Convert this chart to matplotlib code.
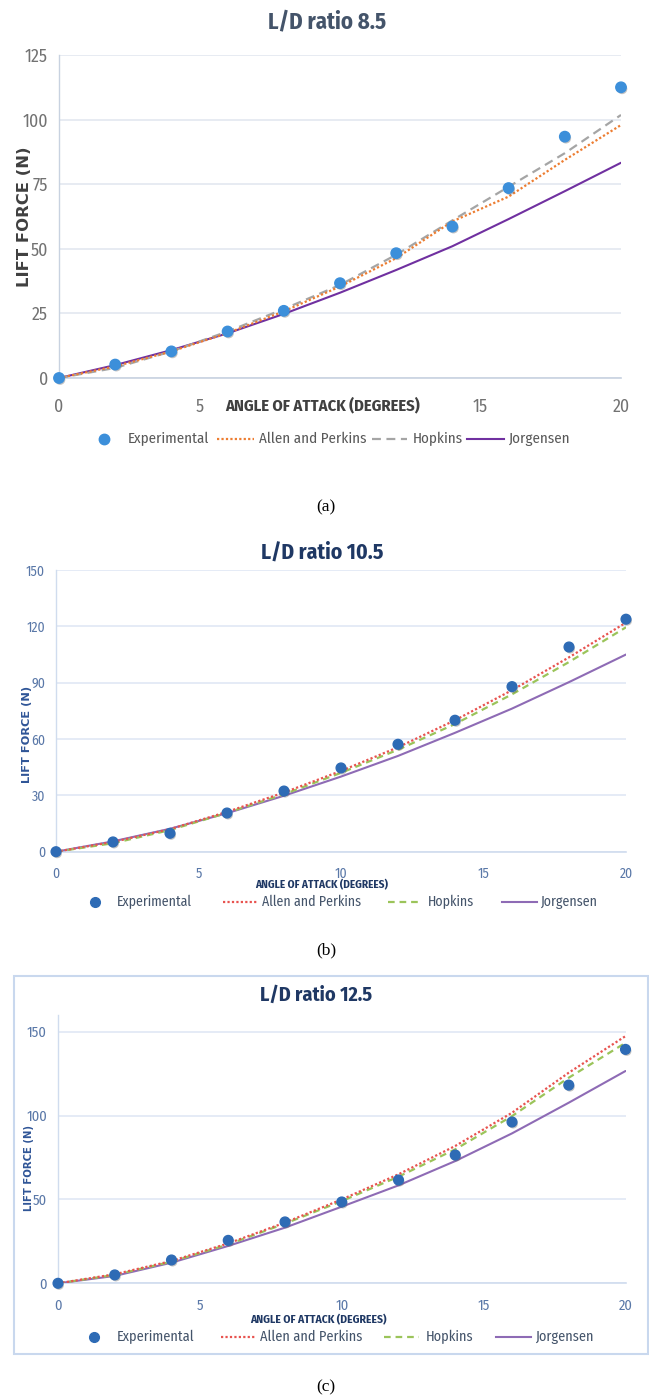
import matplotlib
matplotlib.use("Agg")
import matplotlib.pyplot as plt
import matplotlib.patheffects as pe
from matplotlib import font_manager as fm
from matplotlib.patches import Rectangle
from matplotlib.lines import Line2D

# ---------------- data ----------------
angle = [0, 2, 4, 6, 8, 10, 12, 14, 16, 18, 20]
x_ticks = [0, 5, 10, 15, 20]
series_names = ["Experimental", "Allen and Perkins", "Hopkins", "Jorgensen"]

# L/D ratio 8.5
exp_85 = [0, 5.2, 10.3, 18.0, 26.0, 36.7, 48.3, 58.6, 73.5, 93.4, 112.5]
allen_85 = [0, 4.5, 10.3, 17.4, 25.8, 35.4, 46.4, 60.6, 70.2, 84.4, 97.9]
hopkins_85 = [0, 3.9, 10.3, 18.0, 26.7, 36.0, 47.7, 61.0, 74.0, 87.0, 101.8]
jorg_85 = [0, 5.0, 10.8, 17.3, 24.8, 33.0, 41.8, 51.0, 61.5, 72.3, 83.3]
yticks_85 = [0, 25, 50, 75, 100, 125]

# L/D ratio 10.5
exp_105 = [0, 5.2, 9.8, 20.6, 32.3, 44.6, 57.2, 70.0, 87.9, 109.0, 123.8]
allen_105 = [0, 5.2, 12.0, 21.2, 31.5, 43.0, 55.6, 70.0, 86.0, 103.5, 122.0]
hopkins_105 = [0, 4.5, 11.5, 20.7, 30.6, 42.0, 54.3, 68.0, 83.8, 101.0, 119.5]
jorg_105 = [0, 5.5, 12.2, 20.5, 29.8, 40.0, 51.0, 63.3, 76.2, 90.3, 105.0]
yticks_105 = [0, 30, 60, 90, 120, 150]

# L/D ratio 12.5
exp_125 = [0, 5.0, 13.9, 25.6, 36.6, 48.5, 61.6, 76.5, 96.2, 118.2, 139.5]
allen_125 = [0, 5.4, 13.3, 23.8, 36.2, 50.0, 65.0, 81.9, 101.7, 125.6, 147.4]
hopkins_125 = [0, 5.0, 12.9, 23.2, 35.6, 49.0, 63.6, 79.9, 99.7, 122.6, 143.4]
jorg_125 = [0, 4.4, 12.3, 22.3, 33.2, 45.7, 58.4, 72.9, 89.4, 107.7, 126.6]
yticks_125 = [0, 50, 100, 150]

# ---------------- fonts ----------------
_installed = {f.name for f in fm.fontManager.ttflist}


def family_list(candidates, fallback="DejaVu Sans"):
    found = [c for c in candidates if c in _installed][:1]
    return found + [fallback]


NARROW = family_list(["Fira Sans Condensed", "Asap Condensed", "PT Sans Narrow",
                      "Archivo Narrow", "Liberation Sans Narrow", "Carlito", "Lato"])
SERIF = family_list(["Liberation Serif", "Tinos", "DejaVu Serif"], "DejaVu Serif")
WIDE = ["DejaVu Sans"]

# ---------------- figure ----------------
W, H = 649, 1396
DPI = 100
fig = plt.figure(figsize=(W / DPI, H / DPI), dpi=DPI)
fig.patch.set_facecolor("white")
renderer = fig.canvas.get_renderer()

# soft drop shadow under the experimental markers
MARKER_SHADOW = [pe.SimplePatchShadow(offset=(0.8, -1.2), shadow_rgbFace="#555555",
                                      alpha=0.35),
                 pe.Normal()]


def fx(px):
    return px / W


def fy(py):
    return 1 - py / H


def fit_size(text, family, weight, target_px, rotation=0):
    """Font size (pt) that makes `text` span `target_px` pixels."""
    t = fig.text(0, 0, text, family=family, weight=weight, size=10, rotation=rotation)
    bb = t.get_window_extent(renderer)
    t.remove()
    span = bb.height if rotation else bb.width
    return 10 * target_px / span


def add_axes_px(left, right, top, bottom):
    return fig.add_axes([fx(left), fy(bottom), (right - left) / W, (bottom - top) / H])


def style_axes(ax, ylim, yticks, tick_color, tick_size, xpad, grid_color, spine_color,
               hide_ten=False):
    ax.set_xlim(0, 20)
    ax.set_ylim(*ylim)
    ax.set_xticks(x_ticks)
    ax.set_xticklabels(["" if (hide_ten and v == 10) else str(v) for v in x_ticks])
    ax.set_yticks(yticks)
    ax.tick_params(length=0, colors=tick_color, labelsize=tick_size)
    ax.tick_params(axis="x", pad=xpad)
    ax.tick_params(axis="y", pad=8)
    for lab in ax.get_xticklabels() + ax.get_yticklabels():
        lab.set_fontfamily(NARROW)
    ax.yaxis.grid(True, color=grid_color, lw=1.2)
    ax.set_axisbelow(True)
    for s in ("top", "right"):
        ax.spines[s].set_visible(False)
    ax.spines["left"].set_color(spine_color)
    ax.spines["left"].set_linewidth(1.0)
    ax.spines["bottom"].set_color(spine_color)
    ax.spines["bottom"].set_linewidth(1.2)
    ax.set_facecolor("none")


def draw_series(ax, exp, allen, hop, jorg, c_exp, c_allen, c_hop, c_jorg, hop_dash, ms):
    ax.plot(angle, jorg, color=c_jorg, lw=1.5, solid_capstyle="round", zorder=3)
    ax.plot(angle, hop, color=c_hop, lw=1.6, linestyle=(0, hop_dash), zorder=3)
    ax.plot(angle, allen, color=c_allen, lw=1.6, linestyle=(0, (1.0, 1.0)), zorder=4)
    ax.plot(angle, exp, linestyle="none", marker="o", ms=ms, mfc=c_exp, mec=c_exp,
            zorder=5, clip_on=False, path_effects=MARKER_SHADOW)


def draw_legend(y, marker_x, slots, text_size, text_color, colors, hop_dash, ms):
    """slots: text-start x for Experimental, then (line x0, x1, text x) for each line."""
    c_exp, c_allen, c_hop, c_jorg = colors
    fig.add_artist(Line2D([fx(marker_x)], [fy(y)], transform=fig.transFigure,
                          linestyle="none", marker="o", ms=ms, mfc=c_exp, mec=c_exp))
    fig.text(fx(slots[0]), fy(y), series_names[0], family=NARROW, size=text_size,
             color=text_color, ha="left", va="center")
    styles = [
        dict(color=c_allen, lw=1.6, linestyle=(0, (1.0, 1.0))),
        dict(color=c_hop, lw=1.6, linestyle=(0, hop_dash)),
        dict(color=c_jorg, lw=1.5),
    ]
    for (x0, x1, tx), name, st in zip(slots[1:], series_names[1:], styles):
        fig.add_artist(Line2D([fx(x0), fx(x1)], [fy(y), fy(y)],
                              transform=fig.transFigure, **st))
        fig.text(fx(tx), fy(y), name, family=NARROW, size=text_size,
                 color=text_color, ha="left", va="center")


# ---------- panel (a): L/D ratio 8.5 ----------
col_a = ("#3C8FDA", "#ED7D31", "#A5A5A5", "#7030A0")
ax_a = add_axes_px(59, 621, 55, 378)
style_axes(ax_a, (0, 125), yticks_85, "#727272",
           fit_size("125", NARROW, "normal", 23), 14, "#E3E8F0", "#C8D2E0", hide_ten=True)
draw_series(ax_a, exp_85, allen_85, hopkins_85, jorg_85, *col_a, (4.0, 2.5), 7.5)
fig.text(fx(327), fy(22), "L/D ratio 8.5", family=NARROW, weight="bold",
         size=fit_size("L/D ratio 8.5", NARROW, "bold", 118), color="#44546A",
         ha="center", va="center")
fig.text(fx(25), fy(217), "LIFT FORCE (N)", family=WIDE, weight="bold",
         size=fit_size("LIFT FORCE (N)", WIDE, "bold", 140, rotation=90),
         color="#404040", rotation=90, ha="center", va="center")
fig.text(fx(323), fy(405), "ANGLE OF ATTACK (DEGREES)", family=NARROW, weight="bold",
         size=fit_size("ANGLE OF ATTACK (DEGREES)", NARROW, "bold", 195),
         color="#404040", ha="center", va="center")
draw_legend(439, 104, [128, (217, 254, 259), (372, 407, 413), (467, 504, 509)],
            fit_size("Experimental", NARROW, "normal", 81), "#595959",
            col_a, (4.0, 2.5), 7.5)
fig.text(fx(326), fy(507), "(a)", family=SERIF, size=12.5, color="black",
         ha="center", va="center")

# ---------- panel (b): L/D ratio 10.5 ----------
col_bc = ("#2E6BB5", "#E8534F", "#9BC45A", "#8E6BB5")
ax_b = add_axes_px(56, 626, 570, 851.7)
style_axes(ax_b, (0, 150), yticks_105, "#5A78A8",
           fit_size("150", NARROW, "normal", 19), 11, "#E0E8F5", "#D0DCEE")
draw_series(ax_b, exp_105, allen_105, hopkins_105, jorg_105, *col_bc, (3.0, 2.2), 7)
fig.text(fx(322), fy(552), "L/D ratio 10.5", family=NARROW, weight="bold",
         size=fit_size("L/D ratio 10.5", NARROW, "bold", 122), color="#1F3864",
         ha="center", va="center")
fig.text(fx(27), fy(734), "LIFT FORCE (N)", family=WIDE, weight="bold",
         size=fit_size("LIFT FORCE (N)", WIDE, "bold", 98, rotation=90),
         color="#2F5597", rotation=90, ha="center", va="center")
fig.text(fx(322), fy(885), "ANGLE OF ATTACK (DEGREES)", family=NARROW, weight="bold",
         size=fit_size("ANGLE OF ATTACK (DEGREES)", NARROW, "bold", 132),
         color="#1F3864", ha="center", va="center")
draw_legend(902, 95, [117, (223, 258, 262), (388, 421, 428), (502, 537, 541)],
            fit_size("Experimental", NARROW, "normal", 75), "#44546A",
            col_bc, (3.0, 2.2), 7)
fig.text(fx(326), fy(950), "(b)", family=SERIF, size=12.5, color="black",
         ha="center", va="center")

# ---------- panel (c): L/D ratio 12.5 ----------
fig.add_artist(Rectangle((fx(14), fy(1354)), (648 - 14) / W, (1354 - 976) / H,
                         transform=fig.transFigure, facecolor="none",
                         edgecolor="#C9D8EE", lw=1.5))
ax_c = add_axes_px(58, 625.5, 1015, 1283.3)
style_axes(ax_c, (0, 160), yticks_125, "#5A78A8",
           fit_size("150", NARROW, "normal", 20), 11, "#E0E8F5", "#D0DCEE")
draw_series(ax_c, exp_125, allen_125, hopkins_125, jorg_125, *col_bc, (3.0, 2.2), 7)
fig.text(fx(316), fy(995), "L/D ratio 12.5", family=NARROW, weight="bold",
         size=fit_size("L/D ratio 12.5", NARROW, "bold", 112), color="#1F3864",
         ha="center", va="center")
fig.text(fx(29), fy(1168), "LIFT FORCE (N)", family=WIDE, weight="bold",
         size=fit_size("LIFT FORCE (N)", WIDE, "bold", 87, rotation=90),
         color="#2F5597", rotation=90, ha="center", va="center")
fig.text(fx(318), fy(1320), "ANGLE OF ATTACK (DEGREES)", family=NARROW, weight="bold",
         size=fit_size("ANGLE OF ATTACK (DEGREES)", NARROW, "bold", 136),
         color="#1F3864", ha="center", va="center")
draw_legend(1337, 94, [117, (221, 256, 260), (384, 419, 426), (496, 531, 535)],
            fit_size("Experimental", NARROW, "normal", 77), "#44546A",
            col_bc, (3.0, 2.2), 7)
fig.text(fx(326), fy(1387), "(c)", family=SERIF, size=12.5, color="black",
         ha="center", va="center")

fig.savefig("out.png", dpi=DPI, facecolor="white")
